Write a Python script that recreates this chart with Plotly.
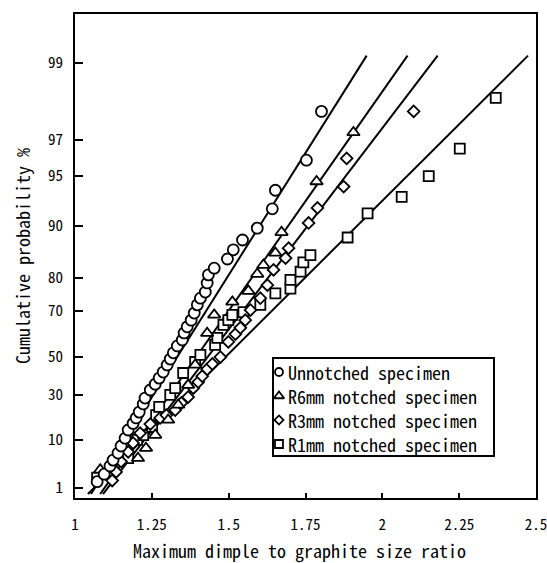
import numpy as np
import plotly.graph_objects as go

# Maximum dimple to graphite size ratio vs. cumulative probability (%)
unnotched_ratio = [1.072, 1.095, 1.114, 1.124, 1.140, 1.150, 1.163, 1.173, 1.189, 1.199,
                   1.209, 1.222, 1.228, 1.245, 1.261, 1.274, 1.287, 1.300, 1.310, 1.320,
                   1.333, 1.349, 1.355, 1.365, 1.378, 1.388, 1.398, 1.408, 1.424, 1.430,
                   1.434, 1.453, 1.496, 1.515, 1.545, 1.593, 1.642, 1.652, 1.753, 1.802]
unnotched_prob = [1.5, 2.3, 3.5, 4.6, 6.2, 8.1, 10.6, 13.6, 16.3, 18.7,
                  21.4, 25.4, 28.4, 32.6, 35.7, 38.9, 42.1, 45.8, 48.8, 51.9,
                  55.2, 58.0, 61.1, 63.7, 66.4, 69.1, 72.0, 74.2, 76.1, 78.7,
                  80.8, 82.4, 84.4, 86.2, 87.9, 89.7, 92.1, 93.9, 96.0, 98.0]

r6_ratio = [1.082, 1.205, 1.231, 1.261, 1.303, 1.336, 1.368, 1.391, 1.430, 1.453,
            1.512, 1.564, 1.593, 1.613, 1.652, 1.672, 1.786, 1.906]
r6_prob = [2.9, 5.0, 7.5, 11.7, 17.8, 24.9, 35.2, 45.8, 61.0, 68.4,
           73.0, 76.4, 81.0, 83.1, 85.6, 89.1, 94.6, 97.3]

r3_ratio = [1.121, 1.134, 1.150, 1.173, 1.189, 1.212, 1.245, 1.277, 1.297, 1.326,
            1.346, 1.368, 1.385, 1.401, 1.414, 1.430, 1.447, 1.473, 1.499, 1.522,
            1.538, 1.554, 1.571, 1.603, 1.626, 1.646, 1.685, 1.695, 1.760, 1.789,
            1.874, 1.884, 2.102]
r3_prob = [1.6, 2.6, 4.3, 6.5, 9.0, 12.4, 16.0, 18.7, 20.0, 22.4,
           25.9, 28.9, 33.6, 36.8, 39.9, 43.6, 46.3, 49.8, 57.1, 60.6,
           63.3, 66.4, 70.2, 74.2, 78.1, 82.0, 84.6, 86.5, 90.4, 92.2,
           94.2, 96.1, 98.0]

r1_ratio = [1.072, 1.173, 1.202, 1.222, 1.251, 1.264, 1.274, 1.310, 1.326, 1.352,
            1.391, 1.408, 1.456, 1.463, 1.483, 1.499, 1.512, 1.548, 1.603, 1.652,
            1.701, 1.701, 1.734, 1.743, 1.766, 1.887, 1.952, 2.063, 2.151, 2.252,
            2.369]
r1_prob = [1.9, 5.0, 10.0, 11.7, 14.8, 20.0, 23.9, 30.0, 33.6, 41.6,
           47.3, 50.9, 55.7, 58.9, 64.5, 66.4, 68.4, 69.4, 72.0, 75.7,
           77.1, 79.5, 81.6, 83.7, 85.2, 88.3, 91.6, 93.3, 95.0, 96.6,
           98.35]

# Fitted straight lines on the Gumbel paper (end points)
fit_prob = [0.66, 99.1]
unnotched_fit_ratio = [1.052, 1.949]
r6_fit_ratio = [1.082, 2.082]
r3_fit_ratio = [1.091, 2.180]
r1_fit_ratio = [1.042, 2.474]

prob_ticks = [1, 10, 30, 50, 70, 80, 90, 95, 97, 99]
prob_tick_text = ["1", "10", "30", "50", "70", "80", "90", "95", "97", "99"]
ratio_ticks = [1, 1.25, 1.5, 1.75, 2, 2.25, 2.5]
ratio_tick_text = ["1", "1.25", "1.5", "1.75", "2", "2.25", "2.5"]

labels = ["Unnotched specimen", "R6mm notched specimen",
          "R3mm notched specimen", "R1mm notched specimen"]


def gumbel(p):
    """Reduced variate of the Gumbel (double exponential) distribution."""
    return -np.log(-np.log(np.asarray(p, dtype=float) / 100.0))


FONT = "Noto Sans Mono CJK JP, Noto Sans CJK JP, Liberation Mono, monospace"

fig = go.Figure()

# fitted lines first so the white-filled markers sit on top of them
for fx in [unnotched_fit_ratio, r6_fit_ratio, r3_fit_ratio, r1_fit_ratio]:
    fig.add_trace(go.Scatter(x=fx, y=gumbel(fit_prob), mode="lines",
                             line=dict(color="black", width=2),
                             showlegend=False, hoverinfo="skip"))

series = [
    (r1_ratio, r1_prob, "square", 10),
    (r3_ratio, r3_prob, "diamond", 9),
    (r6_ratio, r6_prob, "triangle-up", 11),
    (unnotched_ratio, unnotched_prob, "circle", 11),
]
for sx, sp, sym, size in series:
    fig.add_trace(go.Scatter(
        x=sx, y=gumbel(sp), mode="markers",
        marker=dict(symbol=sym, size=size, color="white",
                    line=dict(color="black", width=1.8)),
        showlegend=False))

# legend drawn in a unit overlay frame
leg_x_marker = 0.4425
leg_x_text = 0.4577
leg_rows = [0.2603, 0.2107, 0.1612, 0.1116]
leg_sizes = [8, 9, 7, 8]
leg_syms = ["circle", "triangle-up", "diamond", "square"]
for yy, sym, sz, lab in zip(leg_rows, leg_syms, leg_sizes, labels):
    fig.add_trace(go.Scatter(
        x=[leg_x_marker], y=[yy], xaxis="x2", yaxis="y2", mode="markers",
        marker=dict(symbol=sym, size=sz, color="white",
                    line=dict(color="black", width=1.8)),
        showlegend=False, hoverinfo="skip"))
    fig.add_annotation(x=leg_x_text, y=yy, xref="paper", yref="paper",
                       text=lab, showarrow=False, xanchor="left", yanchor="middle",
                       font=dict(family=FONT, size=18, color="black"))

fig.add_shape(type="rect", xref="paper", yref="paper",
              x0=0.4295, x1=0.9089, y0=0.0868, y1=0.2893,
              line=dict(color="black", width=2), fillcolor="white", layer="below")

# axis titles
fig.add_annotation(x=0.486, y=-0.1074, xref="paper", yref="paper",
                   text="Maximum dimple to graphite size ratio", showarrow=False,
                   xanchor="center", yanchor="middle",
                   font=dict(family=FONT, size=18, color="black"))
fig.add_annotation(x=-0.115, y=0.5, xref="paper", yref="paper",
                   text="Cumulative probability %", showarrow=False, textangle=-90,
                   xanchor="center", yanchor="middle",
                   font=dict(family=FONT, size=18, color="black"))

fig.update_layout(
    template="none",
    width=547, height=563,
    margin=dict(l=75, r=11, t=14, b=65, pad=0, autoexpand=False),
    paper_bgcolor="white", plot_bgcolor="white",
    showlegend=False,
    xaxis=dict(range=[1, 2.5], tickvals=ratio_ticks, ticktext=ratio_tick_text,
               ticks="inside", ticklen=5, tickwidth=1.5, tickcolor="black",
               showline=True, linecolor="black", linewidth=2, mirror=True,
               showgrid=False, zeroline=False, ticklabelstandoff=12,
               automargin=False, ticklabeloverflow="allow",
               tickfont=dict(family=FONT, size=15, color="black")),
    yaxis=dict(range=[-1.671, 5.306], tickvals=gumbel(prob_ticks), ticktext=prob_tick_text,
               ticks="inside", ticklen=8, tickwidth=2, tickcolor="black",
               showline=True, linecolor="black", linewidth=2, mirror=True,
               showgrid=False, zeroline=False, ticklabelstandoff=7,
               automargin=False,
               tickfont=dict(family=FONT, size=15, color="black")),
    xaxis2=dict(overlaying="x", range=[0, 1], visible=False),
    yaxis2=dict(overlaying="y", range=[0, 1], visible=False),
)

fig.write_html("out.html")
